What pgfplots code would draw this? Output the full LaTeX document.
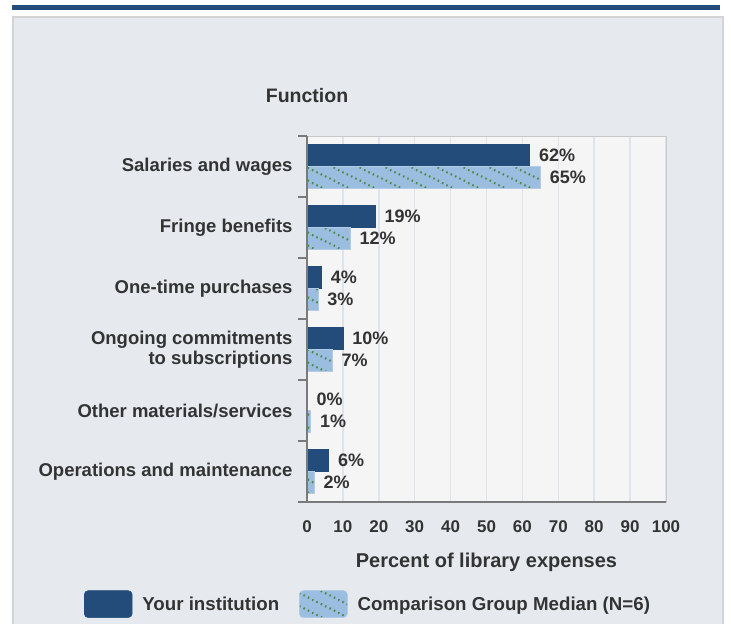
\documentclass[border=0pt]{standalone}
\usepackage{pgfplots}
\pgfplotsset{compat=1.18}
\usepackage{fontspec}
\setmainfont{Liberation Sans}
\usetikzlibrary{patterns.meta}
\definecolor{darkbar}{HTML}{234C7A}
\definecolor{lightbar}{HTML}{9BBDE0}
\definecolor{lightedge}{HTML}{B3CBE6}
\definecolor{hatchgreen}{HTML}{4A8A4A}
\definecolor{panel}{HTML}{E6EAEE}
\definecolor{paneledge}{HTML}{D2D4D6}
\definecolor{txt}{HTML}{333333}
\definecolor{gridc}{HTML}{DCE4F0}
\definecolor{plotbg}{HTML}{F5F5F5}
\definecolor{axisgray}{HTML}{7A7A7A}
\definecolor{boxgray}{HTML}{C8C8C8}

\tikzdeclarepattern{
  name=greendash,
  type=colored,
  bottom left={(0bp,0bp)},
  top right={(26bp,13bp)},
  tile size={(26bp,13bp)},
  code={
    \draw[hatchgreen, line width=2.2bp, dash pattern=on 1.6bp off 3.4bp] (-26bp,13bp) -- (0bp,0bp);
    \draw[hatchgreen, line width=2.2bp, dash pattern=on 1.6bp off 3.4bp] (0bp,13bp) -- (26bp,0bp);
    \draw[hatchgreen, line width=2.2bp, dash pattern=on 1.6bp off 3.4bp] (26bp,13bp) -- (52bp,0bp);
  }
}

\begin{document}
\begin{tikzpicture}
\useasboundingbox (0,0) rectangle (731bp,624bp);
\fill[white] (0,0) rectangle (731bp,624bp);
\filldraw[fill=panel, draw=paneledge, line width=1.5bp] (13bp,-5bp) rectangle (723bp,607bp);
\fill[darkbar] (12bp,614bp) rectangle (720bp,619bp);
\node[anchor=base, font=\fontsize{19.5bp}{22bp}\selectfont\bfseries, text=txt] at (307bp,521bp) {Function};
\begin{axis}[
  at={(307bp,122bp)}, anchor=south west,
  scale only axis, width=359bp, height=366bp,
  xbar, bar width=22bp,
  xmin=0, xmax=100, ymin=0.5, ymax=6.5,
  xtick={0,10,...,100},
  ytick={1,...,6},
  yticklabels={Operations and maintenance, Other materials/services, {Ongoing commitments\\to subscriptions}, One-time purchases, Fringe benefits, Salaries and wages},
  minor ytick={0.5,1.5,...,6.5},
  major tick length=0pt, minor tick length=9bp, tick align=outside, tick pos=left,
  minor y tick style={draw=axisgray, line width=1.5bp},
  xmajorgrids, major x grid style={draw=gridc, line width=1.5bp},
  axis background/.style={fill=plotbg},
  axis line style={draw=boxgray, line width=1bp},
  /pgf/number format/assume math mode=true,
  xticklabel style={font=\fontsize{17bp}{20bp}\selectfont\bfseries, text=txt, anchor=base, yshift=-30bp},
  yticklabel style={font=\fontsize{18.5bp}{20bp}\selectfont\bfseries, text=txt, align=right, anchor=east, xshift=-11bp},
  xlabel={Percent of library expenses},
  xlabel style={font=\fontsize{20bp}{22bp}\selectfont\bfseries, text=txt, at={(axis description cs:0.5,0)}, anchor=base, yshift=-65bp},
  nodes near coords={\pgfmathprintnumber[fixed,precision=0]{\pgfplotspointmeta}\%},
  nodes near coords align=horizontal,
  every node near coord/.append style={font=\fontsize{18bp}{20bp}\selectfont\bfseries, text=txt, anchor=west, xshift=6bp},
  legend style={at={(axis description cs:-0.63,-0.279)}, anchor=west, draw=none, fill=none, legend columns=2,
    font=\fontsize{18.7bp}{20bp}\selectfont\bfseries, text=txt,
    /tikz/every odd column/.append style={column sep=8bp},
    /tikz/every even column/.append style={column sep=18bp}},
  legend image code/.code={\draw[#1, rounded corners=4bp] (0bp,-13.5bp) rectangle (48bp,13.5bp);},
  after end axis/.code={\draw[axisgray, line width=2bp] (rel axis cs:0,1) -- (rel axis cs:0,0) -- (rel axis cs:1,0);},
]
\addplot[fill=darkbar, draw=darkbar, bar shift=11.5bp] coordinates {(62,6) (19,5) (4,4) (10,3) (0,2) (6,1)};
\addplot[fill=lightbar, draw=lightedge, bar shift=-10.5bp, postaction={pattern=greendash}] coordinates {(65,6) (12,5) (3,4) (7,3) (1,2) (2,1)};
\legend{Your institution, Comparison Group Median (N=6)}
\end{axis}
\end{tikzpicture}
\end{document}
